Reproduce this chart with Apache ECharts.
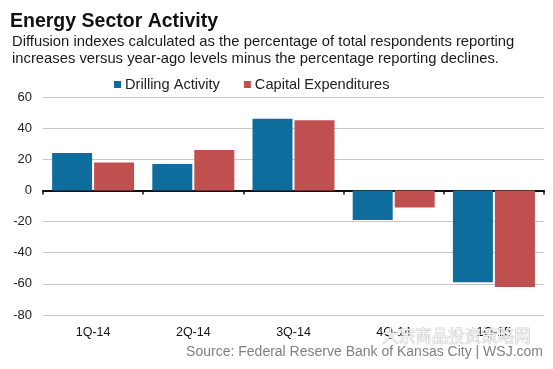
<!DOCTYPE html>
<html>
<head>
<meta charset="utf-8">
<script src="https://cdn.jsdelivr.net/npm/echarts@6/dist/echarts.min.js"></script>
<style>
html,body{margin:0;padding:0;background:#fff;}
#chart{width:553px;height:369px;}
</style>
</head>
<body>
<div id="chart"></div>
<script>
const categories = ['1Q-14', '2Q-14', '3Q-14', '4Q-14', '1Q-15'];
const drillingActivity = [24, 17, 46, -19, -59];
const capitalExpenditures = [18, 26, 45, -11, -62];
const seriesNames = ['Drilling Activity', 'Capital Expenditures'];
const yTicks = { min: -80, max: 60, interval: 20 };
const titleText = 'Energy Sector Activity';
const subtitleLines = [
  'Diffusion indexes calculated as the percentage of total respondents reporting',
  'increases versus year-ago levels minus the percentage reporting declines.'
];
const sourceText = 'Source: Federal Reserve Bank of Kansas City | WSJ.com';
const watermarkText = '大宗商品投资策略网';

const FONT = '"Liberation Sans", Arial, Helvetica, sans-serif';
const BLUE = '#0f6d9e';
const RED = '#c0504f';

const chart = echarts.init(document.getElementById('chart'), null, { renderer: 'canvas' });
chart.setOption({
  animation: false,
  backgroundColor: '#fff',
  textStyle: { fontFamily: FONT },
  title: [
    {
      text: titleText,
      left: 10, top: 12, padding: 0,
      textStyle: { fontFamily: FONT, fontSize: 19.5, fontWeight: 'bold', color: '#111' }
    },
    {
      text: subtitleLines.join('\n'),
      left: 12, top: 33, padding: 0,
      textStyle: { fontFamily: FONT, fontSize: 14.8, fontWeight: 'normal', color: '#1a1a1a', lineHeight: 17 }
    }
  ],
  legend: {
    data: seriesNames,
    left: 109, top: 72,
    icon: 'rect',
    itemWidth: 7, itemHeight: 7,
    itemGap: 24,
    textStyle: { fontFamily: FONT, fontSize: 14.6, color: '#222', padding: [0, 0, 0, -1] }
  },
  grid: { left: 43, right: 9, top: 97, bottom: 54, containLabel: false },
  xAxis: [
    {
      type: 'category',
      data: categories,
      position: 'bottom',
      axisLine: { show: false, onZero: false },
      axisTick: { show: false },
      axisLabel: { fontFamily: FONT, fontSize: 12.5, color: '#111', margin: 11 }
    },
    {
      type: 'category',
      data: categories,
      position: 'top',
      axisLine: { show: true, onZero: true, lineStyle: { color: '#111', width: 2 } },
      axisTick: { show: true, inside: true, length: 4, lineStyle: { color: '#111', width: 1.5 } },
      axisLabel: { show: false }
    }
  ],
  yAxis: {
    type: 'value',
    min: yTicks.min, max: yTicks.max, interval: yTicks.interval,
    axisLine: { show: false },
    axisTick: { show: false },
    axisLabel: { fontFamily: FONT, fontSize: 13, color: '#222', margin: 11 },
    splitLine: { lineStyle: { color: '#c8c8c8', width: 1 } }
  },
  series: [
    {
      name: seriesNames[0], type: 'bar', xAxisIndex: 0,
      data: drillingActivity,
      itemStyle: { color: BLUE },
      barWidth: 40, barGap: '5%'
    },
    {
      name: seriesNames[1], type: 'bar', xAxisIndex: 0,
      data: capitalExpenditures,
      itemStyle: { color: RED },
      barWidth: 40, barGap: '5%'
    }
  ],
  graphic: [
    {
      type: 'text', right: 22, top: 327, z: 1, silent: true,
      style: { text: watermarkText, font: '16.5px "Noto Sans CJK SC", sans-serif', fill: '#f0f0f0', stroke: '#b8b8b8', lineWidth: 0.6 }
    },
    {
      type: 'text', right: 10, top: 345, z: 10,
      style: { text: sourceText, font: '14px ' + FONT, fill: '#808080' }
    }
  ]
});
</script>
</body>
</html>
